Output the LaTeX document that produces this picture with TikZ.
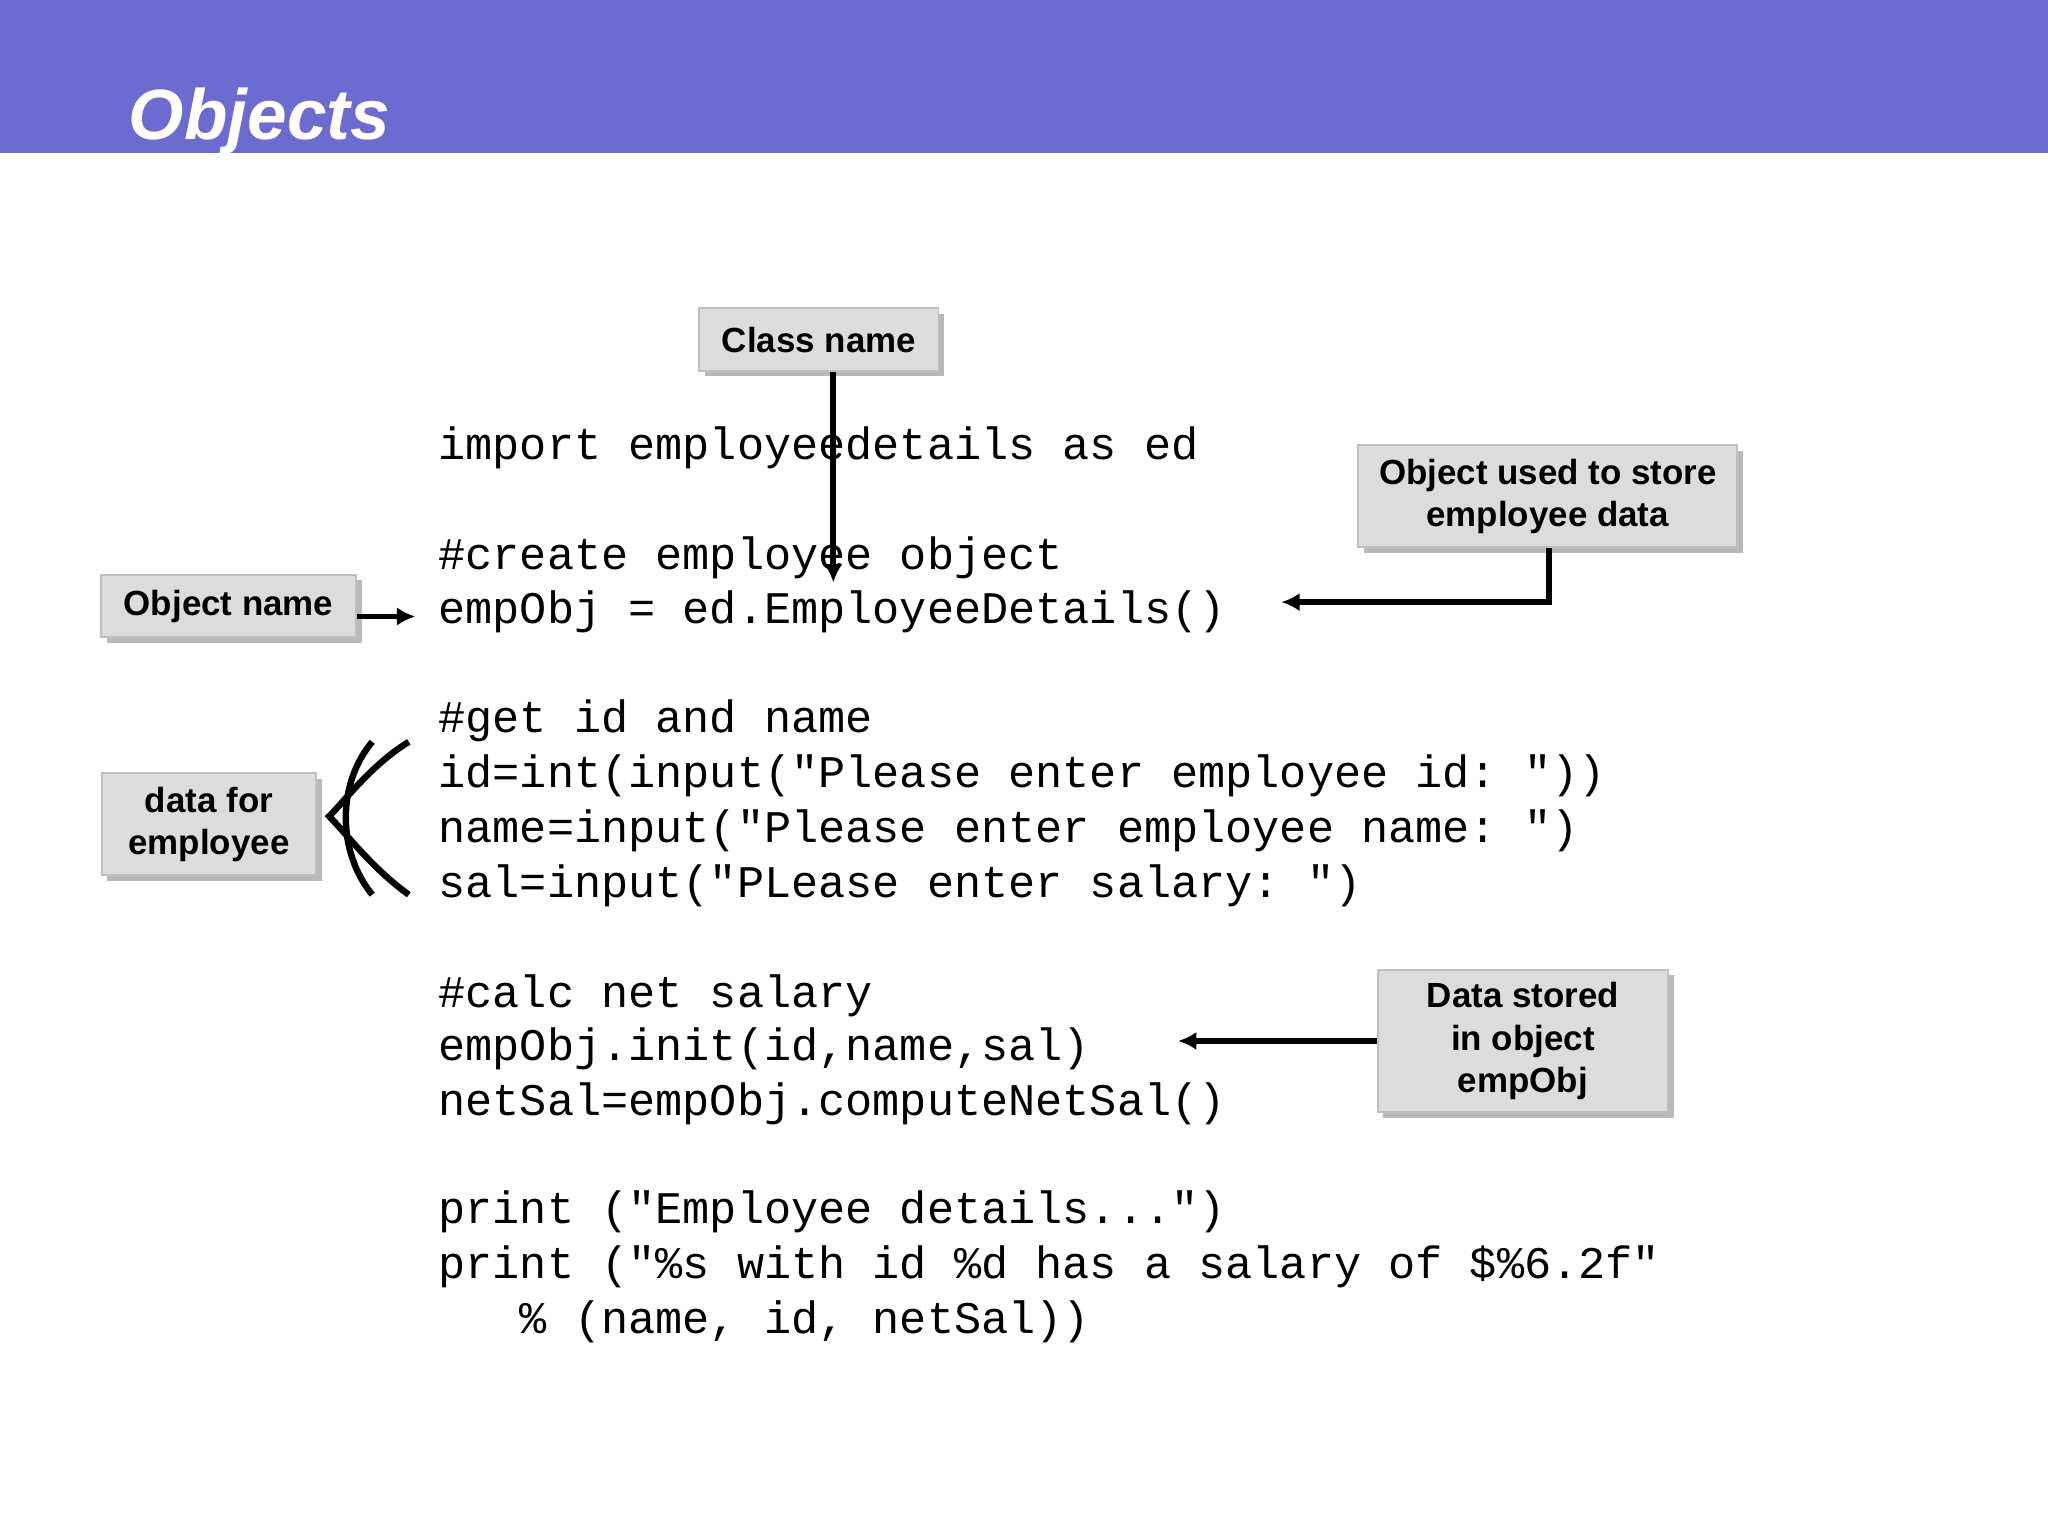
\documentclass[tikz,border=0pt]{standalone}
\usepackage{fontspec}
\setmainfont{Liberation Sans}
\setmonofont{Liberation Mono}
\usetikzlibrary{arrows.meta,shadows}
\definecolor{bandblue}{HTML}{6C6BD1}
\definecolor{boxgray}{HTML}{DCDCDC}

\tikzset{
  labelbox/.style={fill=boxgray, draw=gray!50, line width=0.4pt, align=center,
    font=\fontsize{7.6}{9.2}\selectfont\bfseries, inner sep=0pt,
    drop shadow={shadow xshift=1.2pt, shadow yshift=-1.2pt, fill=gray!55, opacity=1}},
  codeline/.style={anchor=base west, inner sep=0pt, font=\ttfamily\fontsize{9.85}{12}\selectfont},
  pointer/.style={line width=1.3pt, -{Latex[length=4pt,width=4pt]}}
}

\begin{document}
\begin{tikzpicture}[x=0.01cm, y=-0.01cm]
\useasboundingbox[fill=white] (0,0) rectangle (1568,1176);
\fill[bandblue] (0,0) rectangle (1568,117);
\node[anchor=base west, inner sep=0pt, text=white, font=\fontsize{15.5}{18}\selectfont\bfseries\itshape] (title) at (98,107) {Objects};

% code
\node[codeline] (c1) at (335,352) {import employeedetails as ed};
\node[codeline] (c2) at (335,436) {\#create employee object};
\node[codeline] (c3) at (335,477) {empObj = ed.EmployeeDetails()};
\node[codeline] (c4) at (335,561) {\#get id and name};
\node[codeline] (c5) at (335,603) {id=int(input("Please enter employee id: "))};
\node[codeline] (c6) at (335,645) {name=input("Please enter employee name: ")};
\node[codeline] (c7) at (335,687) {sal=input("PLease enter salary: ")};
\node[codeline] (c8) at (335,771) {\#calc net salary};
\node[codeline] (c9) at (335,812) {empObj.init(id,name,sal)};
\node[codeline] (c10) at (335,854) {netSal=empObj.computeNetSal()};
\node[codeline] (c11) at (335,937) {print ("Employee details...")};
\node[codeline] (c12) at (335,979) {print ("\%s with id \%d has a salary of \$\%6.2f"};
\node[codeline] (c13) at (335,1021) {~~~\% (name, id, netSal))};

% labels
\node[labelbox, minimum width=1.83cm, minimum height=0.48cm] (classname) at (627,260) {Class name};
\node[labelbox, minimum width=2.9cm, minimum height=0.78cm] (objused) at (1185,380) {Object used to store\\employee data};
\node[labelbox, minimum width=1.95cm, minimum height=0.48cm] (objname) at (175,464) {Object name};
\node[labelbox, minimum width=1.64cm, minimum height=0.78cm] (datafor) at (160,631) {data for\\employee};
\node[labelbox, minimum width=2.22cm, minimum height=1.09cm] (datastored) at (1166,797) {Data stored\\in object\\empObj};

\coordinate (classtip) at (638,446);
\coordinate (nametip) at (318,472);
\coordinate (usedcorner) at (1186,461);
\coordinate (usedtip) at (981,461);
\coordinate (storedtip) at (902,797);

% arrows
\draw[pointer] (classname.south -| classtip) -- (classtip);
\draw[pointer] (objname.east |- nametip) -- (nametip);
\draw[pointer] (objused.south -| usedcorner) -- (usedcorner) -- (usedtip);
\draw[pointer] (datastored.west |- storedtip) -- (storedtip);

% brace
\draw[line width=1.4pt] (313,568) .. controls (285,585) and (265,612) .. (252,625)
  .. controls (265,638) and (285,665) .. (313,685);
\draw[line width=1.4pt] (285,568) .. controls (258,600) and (258,652) .. (285,685);
\end{tikzpicture}
\end{document}
